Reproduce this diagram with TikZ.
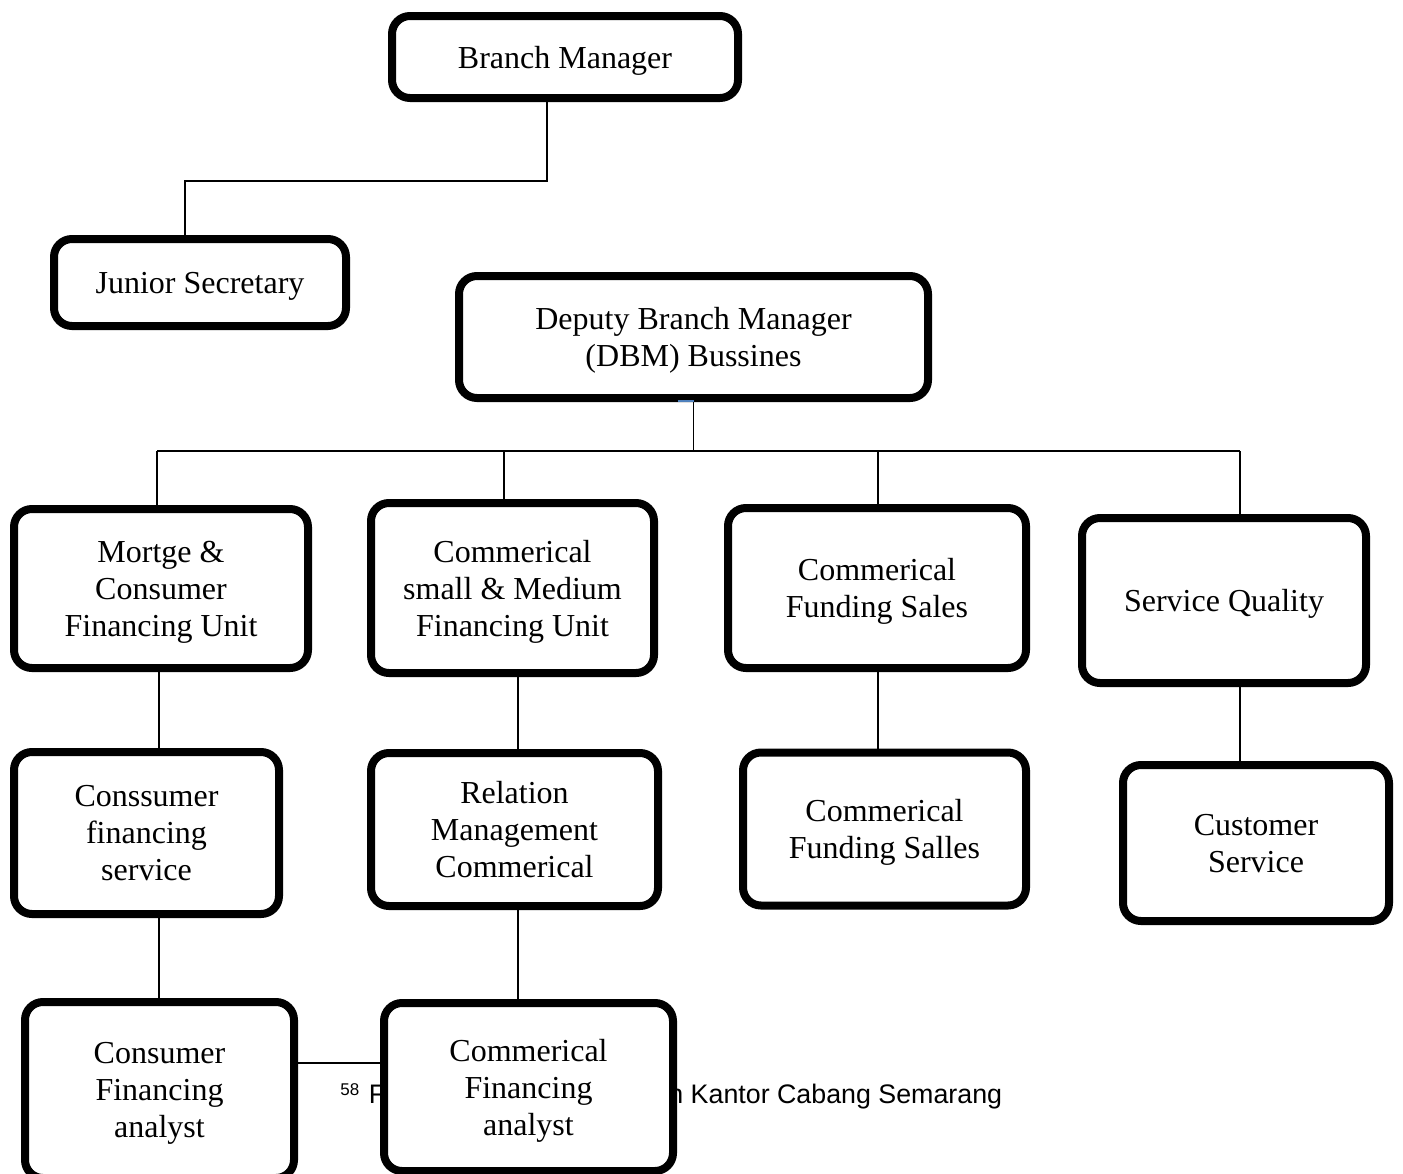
\documentclass[tikz,border=0pt]{standalone}
\usepackage{fontspec}
\setmainfont{Liberation Serif}
\newfontfamily\footfont{Liberation Sans}
\definecolor{markblue}{RGB}{79,129,189}

\begin{document}
\begin{tikzpicture}[x=0.5pt,y=-0.5pt,
    unit/.style={draw,line width=4pt,rounded corners=9pt,fill=white,
      align=center,inner sep=0pt,text depth=0pt,
      font=\fontsize{16}{18.5}\selectfont},
    link/.style={line width=0.7pt},
    foot/.style={anchor=base west,inner sep=0pt,
      font=\footfont\fontsize{13.4}{15}\selectfont}]
  % Page frame
  \useasboundingbox (0,0) rectangle (1403,1173);
  %
  % Footnote (the lowest box hides part of it)
  \node[foot] (footleft) at (340,1103)
    {\raisebox{4pt}{\fontsize{8.5}{10}\selectfont 58}\hspace{1pt} F};
  \node[foot] (footright) at (668,1103) {n Kantor Cabang Semarang};
  %
  % Top level
  \node[unit,minimum width=173pt,minimum height=41pt] (bm) at (565,57)
    {Branch Manager};
  \node[unit,minimum width=146pt,minimum height=43.5pt] (js) at (200,282.5)
    {Junior Secretary};
  \node[unit,minimum width=234.5pt,minimum height=61pt] (dbm) at (693.5,337)
    {Deputy Branch Manager\\(DBM) Bussines};
  %
  % Units
  \node[unit,minimum width=147pt,minimum height=79.5pt] (mcf) at (161,588.5)
    {Mortge \&\\Consumer\\Financing Unit};
  \node[unit,minimum width=141.5pt,minimum height=85pt] (csm) at (512.5,588)
    {Commerical\\small \& Medium\\Financing Unit};
  \node[unit,minimum width=149pt,minimum height=80pt] (cfs) at (877,588)
    {Commerical\\Funding Sales};
  \node[unit,minimum width=142pt,minimum height=82.5pt] (sq) at (1224,600.5)
    {Service Quality};
  %
  % Staff
  \node[unit,minimum width=132.5pt,minimum height=81pt] (cfsv) at (146.5,833)
    {Conssumer\\financing\\service};
  \node[unit,minimum width=143.5pt,minimum height=76.5pt] (rmc) at (514.5,829.5)
    {Relation\\Management\\Commerical};
  \node[unit,minimum width=141.5pt,minimum height=76.5pt] (cfsl) at (884.5,829)
    {Commerical\\Funding Salles};
  \node[unit,minimum width=133pt,minimum height=78pt] (cs) at (1256,843)
    {Customer\\Service};
  %
  % Analysts
  \node[unit,minimum width=134.5pt,minimum height=88pt] (cfa) at (159.5,1090)
    {Consumer\\Financing\\analyst};
  \node[unit,minimum width=144.5pt,minimum height=84pt] (cma) at (528.5,1087)
    {Commerical\\Financing\\analyst};
  %
  % Branch manager to secretary
  \coordinate (bmfork) at (547,181);
  \coordinate (jsfork) at (185,181);
  \draw[link] (bm.south -| bmfork) -- (bmfork) -- (jsfork) -- (js.north -| jsfork);
  %
  % Deputy to units
  \coordinate (bus) at (693.5,451);
  \draw[link] (dbm.south) -- (bus);
  \foreach \child/\xdrop in {mcf/157,csm/504,cfs/878,sq/1240} {
    \coordinate (\child-drop) at (\xdrop,451);
    \draw[link] (\child-drop) -- (\child-drop |- \child.north);
  }
  \draw[link] (mcf-drop) -- (sq-drop);
  %
  % Units down to staff
  \foreach \upper/\lower/\xlink in {mcf/cfsv/159,csm/rmc/518,cfs/cfsl/878,
      sq/cs/1240,cfsv/cfa/159,rmc/cma/518} {
    \coordinate (\upper-link) at (\xlink,0);
    \draw[link] (\upper.south -| \upper-link) -- (\lower.north -| \upper-link);
  }
  %
  % Between analysts
  \coordinate (analystlink) at (0,1063);
  \draw[link] (cfa.east |- analystlink) -- (cma.west |- analystlink);
  %
  % Mark under the deputy box
  \draw[markblue,line width=1pt] (678,401) -- (694,401);
  %
\end{tikzpicture}
\end{document}
